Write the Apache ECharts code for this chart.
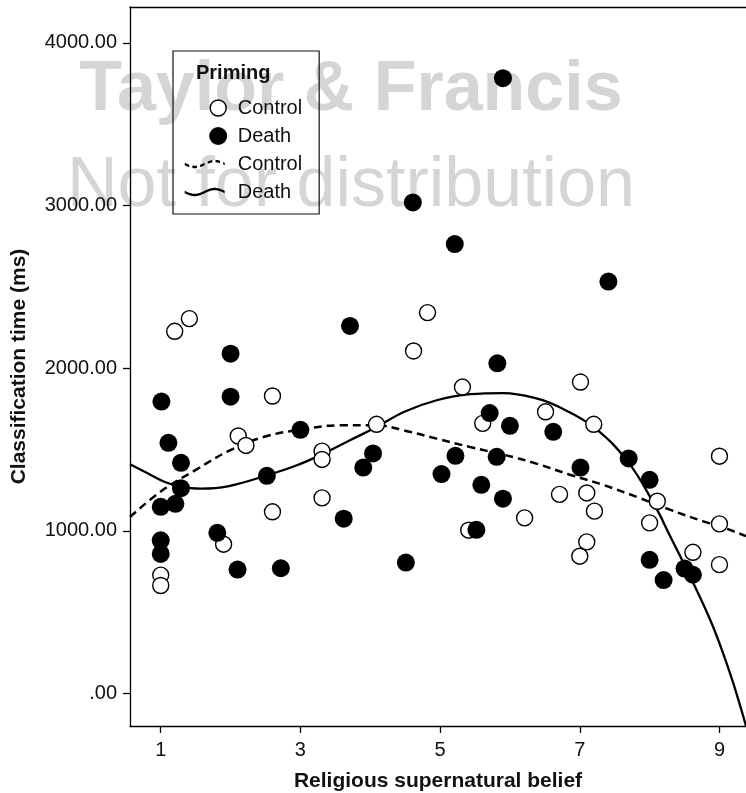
<!DOCTYPE html>
<html>
<head>
<meta charset="utf-8">
<script src="https://cdn.jsdelivr.net/npm/echarts@6/dist/echarts.min.js"></script>
<style>
  html, body { margin: 0; padding: 0; background: #fff; }
  #chart { width: 746px; height: 793px; }
</style>
</head>
<body>
<div id="chart"></div>
<script>
// axis ticks
var xTicks = [1, 3, 5, 7, 9];
var yTicks = [0, 1000, 2000, 3000, 4000];

// Control priming (open circles)
var controlX = [1.0, 1.0, 1.20, 1.41, 1.90, 2.11, 2.22, 2.60, 2.60, 3.31, 3.31, 3.31, 4.09, 4.62, 4.82, 5.32, 5.41,
  5.61, 6.21, 6.51, 6.71, 7.0, 7.01, 7.10, 7.10, 7.20, 7.21, 8.0, 8.11, 8.62, 9.0, 9.0, 9.0];
var controlY = [728, 664, 2227, 2305, 918, 1583, 1525, 1829, 1117, 1490, 1439, 1203, 1655, 2106, 2342, 1884, 1004,
  1661, 1080, 1732, 1224, 844, 1915, 1233, 932, 1655, 1121, 1049, 1182, 868, 1459, 1043, 792];

// Death priming (filled circles)
var deathX = [1.0, 1.0, 1.0, 1.01, 1.11, 1.21, 1.29, 1.29, 1.81, 2.0, 2.0, 2.10, 2.52, 2.72, 3.0, 3.62, 3.71, 3.90,
  4.04, 4.51, 4.61, 5.02, 5.21, 5.22, 5.52, 5.59, 5.71, 5.81, 5.82, 5.90, 5.90, 6.00, 6.62, 7.01, 7.41, 7.70, 8.0,
  8.0, 8.20, 8.50, 8.62];
var deathY = [1148, 942, 858, 1795, 1541, 1166, 1418, 1262, 988, 2089, 1825, 762, 1338, 770, 1621, 1075, 2260, 1389,
  1476, 805, 3019, 1349, 2763, 1461, 1006, 1283, 1724, 1455, 2030, 3783, 1198, 1646, 1609, 1389, 2533, 1445, 1314,
  822, 697, 768, 730];

// fitted curves
var controlFitX = [0.56, 1.01, 1.49, 1.99, 2.47, 3.0, 3.57, 4.09, 4.48, 4.95, 5.43, 5.91, 6.39, 6.86, 7.34, 7.82,
  8.29, 8.77, 9.01, 9.38];
var controlFitY = [1085, 1245, 1372, 1495, 1577, 1622, 1649, 1649, 1618, 1567, 1515, 1468, 1412, 1345, 1282, 1208,
  1130, 1058, 1028, 967];
var deathFitX = [0.56, 0.82, 1.06, 1.30, 1.58, 1.96, 2.52, 2.95, 3.33, 3.71, 4.09, 4.48, 4.95, 5.43, 5.91, 6.39,
  6.72, 7.20, 7.68, 8.06, 8.30, 8.63, 8.87, 9.05, 9.20, 9.38];
var deathFitY = [1409, 1352, 1300, 1269, 1260, 1274, 1341, 1403, 1475, 1557, 1638, 1731, 1803, 1840, 1847, 1813,
  1758, 1638, 1430, 1167, 962, 675, 450, 250, 60, -200];

function pairs(xs, ys) {
  return xs.map(function (x, i) { return [x, ys[i]]; });
}

// legend icons: 53x18 box, corners fixed by two moveTo points
function wavePath(dash, gap) {
  var d = 'M0,0M53,18';
  var x = 5;
  while (x < 45) {
    var end = Math.min(x + dash, 45);
    var top = [], bot = [];
    var n = Math.max(2, Math.round((end - x) * 2));
    for (var k = 0; k <= n; k++) {
      var t = x + (end - x) * k / n;
      var yy = 9 + 3 * Math.sin(2 * Math.PI * (t - 5) / 40);
      top.push(t.toFixed(2) + ',' + (yy - 1.2).toFixed(2));
      bot.unshift(t.toFixed(2) + ',' + (yy + 1.2).toFixed(2));
    }
    d += 'M' + top.join('L') + 'L' + bot.join('L') + 'Z';
    x = end + gap;
  }
  return 'path://' + d;
}
var circleIcon = 'path://M0,0M53,18M30.5,9A8,8,0,1,0,46.5,9A8,8,0,1,0,30.5,9Z';
var dotIcon = 'path://M0,0M53,18M29.5,9A9,9,0,1,0,47.5,9A9,9,0,1,0,29.5,9Z';

var font = '"Liberation Sans", Arial, Helvetica, sans-serif';
var ink = '#111';

var chart = echarts.init(document.getElementById('chart'));

var option = {
  animation: false,
  backgroundColor: '#fff',
  title: {
    text: 'Priming',
    left: 196,
    top: 63,
    padding: 0,
    textStyle: { fontFamily: font, fontSize: 20, fontWeight: 'bold', color: ink }
  },
  legend: {
    orient: 'vertical',
    left: 173,
    top: 51,
    padding: [47, 17, 12, 6],
    borderColor: '#111',
    borderWidth: 1.2,
    itemWidth: 53,
    itemHeight: 18,
    itemGap: 8,
    textStyle: { fontFamily: font, fontSize: 20, color: ink },
    formatter: function (name) { return name.replace(' fit', ''); },
    data: [
      { name: 'Control', icon: circleIcon, itemStyle: { color: '#fff', borderColor: '#000', borderWidth: 1.4 } },
      { name: 'Death', icon: dotIcon, itemStyle: { color: '#000', borderWidth: 0 } },
      { name: 'Control fit', icon: wavePath(4.5, 3.2), itemStyle: { color: '#000', borderWidth: 0 } },
      { name: 'Death fit', icon: wavePath(40, 0), itemStyle: { color: '#000', borderWidth: 0 } }
    ]
  },
  graphic: [
    {
      type: 'text', x: 351, y: 91, z: -10, silent: true,
      style: { text: 'Taylor & Francis', font: 'bold 70px "Liberation Sans", Arial, sans-serif',
        fill: '#d4d5d7', align: 'center', verticalAlign: 'middle' }
    },
    {
      type: 'text', x: 351, y: 187, z: -10, silent: true,
      style: { text: 'Not for distribution', font: '70px "Liberation Sans", Arial, sans-serif',
        fill: '#d4d5d7', align: 'center', verticalAlign: 'middle' }
    }
  ],
  grid: { left: 130, right: 0, top: 7, bottom: 67, containLabel: false, outerBoundsMode: 'none' },
  xAxis: [
    {
      type: 'value',
      min: 0.56,
      max: 9.38,
      name: 'Religious supernatural belief',
      nameLocation: 'middle',
      nameGap: 45,
      nameTextStyle: { fontFamily: font, fontSize: 21, fontWeight: 'bold', color: ink },
      axisLine: { show: true, onZero: false, lineStyle: { color: '#000', width: 1.3 } },
      axisTick: { show: true, length: 7, customValues: xTicks, lineStyle: { color: '#000', width: 1.3 } },
      axisLabel: { customValues: xTicks, margin: 14.5, fontFamily: font, fontSize: 20, color: ink },
      splitLine: { show: false }
    },
    {
      type: 'value',
      position: 'top',
      min: 0.56,
      max: 9.38,
      axisLine: { show: true, onZero: false, lineStyle: { color: '#000', width: 1.3 } },
      axisTick: { show: false },
      axisLabel: { show: false },
      splitLine: { show: false }
    }
  ],
  yAxis: {
    type: 'value',
    min: -200,
    max: 4221,
    name: 'Classification time (ms)',
    nameLocation: 'middle',
    nameGap: 100,
    nameTextStyle: { fontFamily: font, fontSize: 21, fontWeight: 'bold', color: ink },
    axisLine: { show: true, onZero: false, lineStyle: { color: '#000', width: 1.3 } },
    axisTick: { show: true, length: 7, customValues: yTicks, lineStyle: { color: '#000', width: 1.3 } },
    axisLabel: {
      customValues: yTicks,
      margin: 13,
      fontFamily: font,
      fontSize: 20,
      color: ink,
      formatter: function (v) { return v === 0 ? '.00' : v.toFixed(2); }
    },
    splitLine: { show: false }
  },
  series: [
    {
      name: 'Control fit',
      type: 'line',
      data: pairs(controlFitX, controlFitY),
      smooth: 0.4,
      symbol: 'none',
      color: '#000',
      lineStyle: { color: '#000', width: 2.5, type: [8, 5] },
      z: 3
    },
    {
      name: 'Death fit',
      type: 'line',
      data: pairs(deathFitX, deathFitY),
      smooth: 0.4,
      symbol: 'none',
      color: '#000',
      lineStyle: { color: '#000', width: 2.3 },
      z: 3
    },
    {
      name: 'Control',
      type: 'scatter',
      data: pairs(controlX, controlY),
      symbol: 'circle',
      symbolSize: 16,
      itemStyle: { color: '#fff', borderColor: '#000', borderWidth: 1.4, opacity: 1 },
      z: 4
    },
    {
      name: 'Death',
      type: 'scatter',
      data: pairs(deathX, deathY),
      symbol: 'circle',
      symbolSize: 18,
      itemStyle: { color: '#000', opacity: 1 },
      z: 5
    }
  ]
};

chart.setOption(option);
</script>
</body>
</html>
